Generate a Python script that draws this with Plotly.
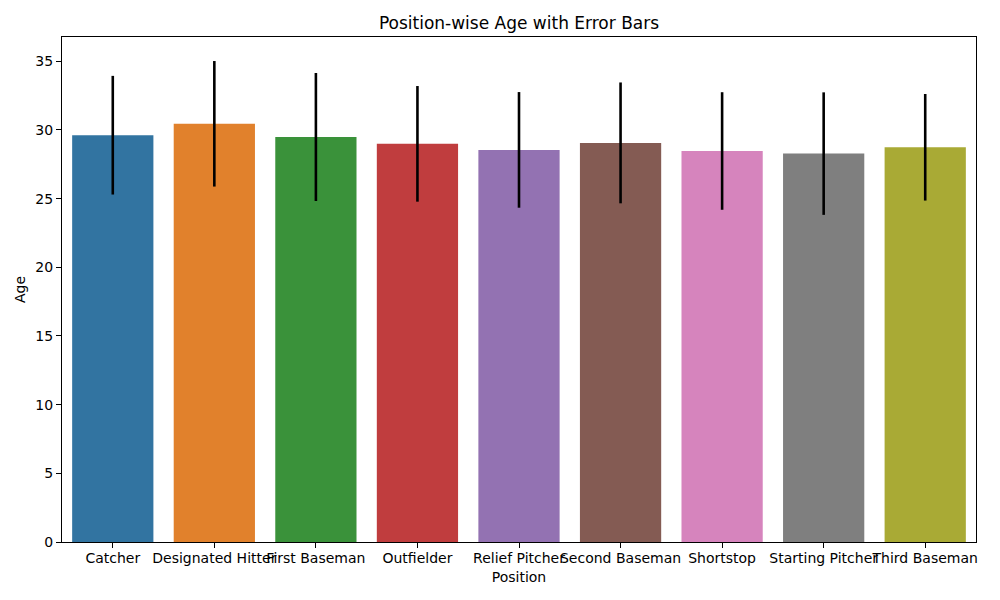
import plotly.graph_objects as go

positions = ["Catcher", "Designated Hitter", "First Baseman", "Outfielder",
             "Relief Pitcher", "Second Baseman", "Shortstop", "Starting Pitcher",
             "Third Baseman"]
mean_age = [29.62, 30.45, 29.49, 28.99, 28.55, 29.06, 28.47, 28.28, 28.74]
std_age = [4.32, 4.57, 4.66, 4.21, 4.21, 4.40, 4.28, 4.46, 3.88]
colors = ["#3274a1", "#e1812c", "#3a923a", "#c03d3e", "#9372b2",
          "#845b53", "#d684bd", "#7f7f7f", "#a9aa35"]
y_ticks = [0, 5, 10, 15, 20, 25, 30, 35]

fig = go.Figure(go.Bar(
    x=positions, y=mean_age, width=0.8,
    marker=dict(color=colors, line=dict(width=0)),
    error_y=dict(type="data", array=std_age, visible=True,
                 color="black", thickness=2.6, width=0),
))

font = "DejaVu Sans, sans-serif"
fig.update_layout(
    width=1000, height=600,
    margin=dict(l=62, r=24, t=37, b=58, autoexpand=False),
    plot_bgcolor="white", paper_bgcolor="white",
    font=dict(family=font, size=14, color="black"),
    title=dict(text="Position-wise Age with Error Bars", x=0.519, xanchor="center",
               y=0.962, yanchor="middle", font=dict(size=17)),
    showlegend=False, bargap=0.2,
)
fig.update_xaxes(
    title=dict(text="Position", standoff=7, font=dict(size=14)), range=[-0.5, 8.5],
    tickfont=dict(size=14), ticklabelstandoff=-2,
    showline=True, linecolor="black", linewidth=1, mirror=True,
    ticks="outside", ticklen=5, tickcolor="black", showgrid=False,
    tickangle=0, automargin=False,
)
fig.update_yaxes(
    title=dict(text="Age", standoff=6, font=dict(size=14)), range=[0, 36.77],
    tickvals=y_ticks, tickfont=dict(size=14),
    showline=True, linecolor="black", linewidth=1, mirror=True,
    ticks="outside", ticklen=5, tickcolor="black", showgrid=False, zeroline=False,
    automargin=False,
)
fig.write_html(
    "out.html",
    config={"displayModeBar": False},
    post_script="document.body.style.margin='0';document.body.style.overflow='hidden';",
)
